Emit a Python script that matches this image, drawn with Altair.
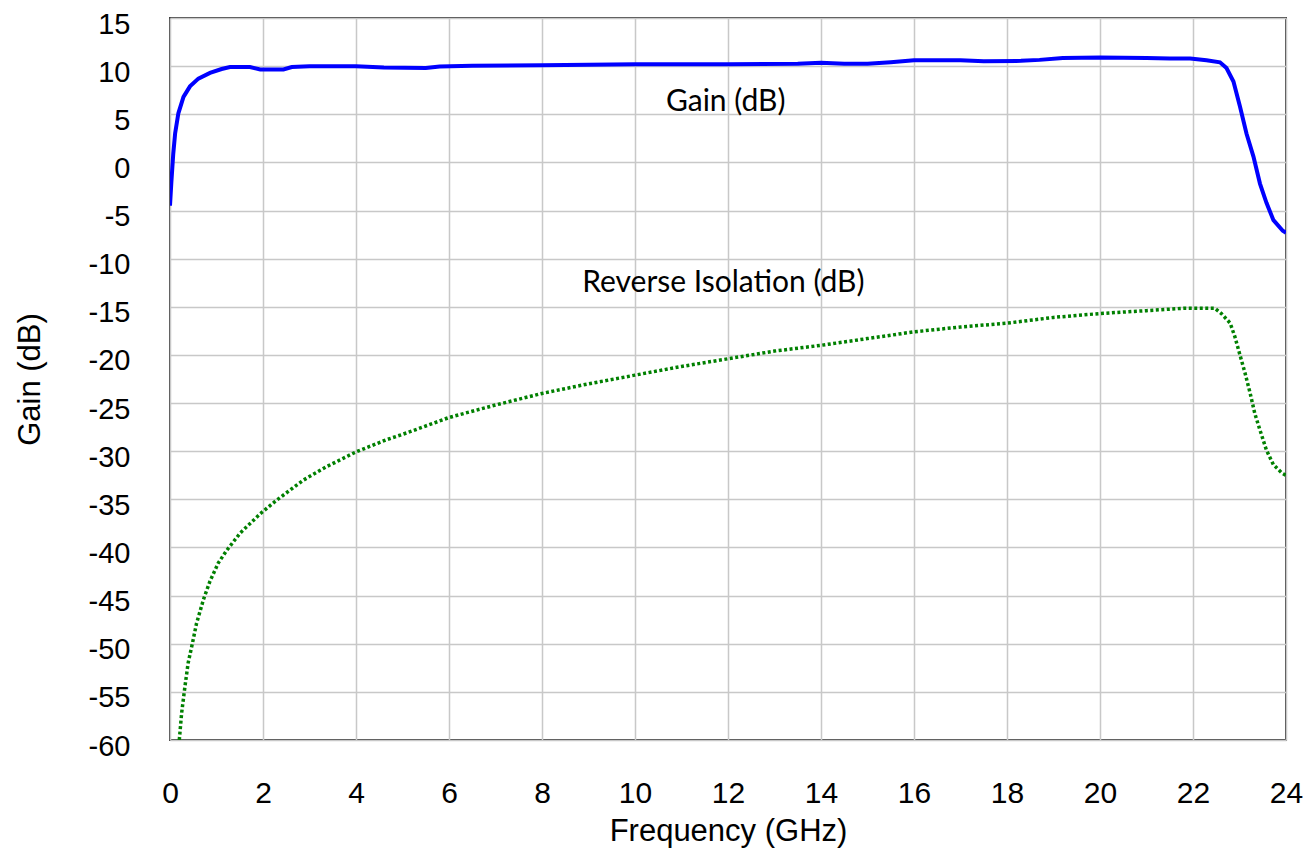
import altair as alt
import pandas as pd

gain_freq = [0.0, 0.03, 0.07, 0.11, 0.18, 0.29, 0.43, 0.61, 0.86, 1.11, 1.29, 1.72, 1.94, 2.44,
             2.62, 3.0, 4.0, 4.6, 5.5, 5.8, 6.5, 8.0, 10.0, 12.0, 13.5, 14.0, 14.5, 15.0, 15.5,
             16.0, 17.0, 17.5, 18.3, 18.7, 19.2, 20.0, 21.0, 21.5, 21.94, 22.29, 22.58, 22.72,
             22.87, 23.01, 23.15, 23.3, 23.44, 23.58, 23.73, 23.93, 24.0]
gain_db = [-4.5, -2.0, 0.9, 3.0, 5.1, 6.8, 7.9, 8.7, 9.3, 9.7, 9.9, 9.9, 9.65, 9.65,
           9.9, 10.0, 10.0, 9.85, 9.8, 9.95, 10.05, 10.1, 10.2, 10.2, 10.25, 10.35, 10.25, 10.25, 10.4,
           10.6, 10.6, 10.5, 10.55, 10.65, 10.85, 10.9, 10.85, 10.8, 10.8, 10.6, 10.4, 9.8,
           8.4, 5.8, 3.0, 0.6, -2.2, -4.2, -6.0, -7.1, -7.3]

iso_freq = [0.2, 0.25, 0.32, 0.39, 0.48, 0.57, 0.72, 0.86, 1.04, 1.22, 1.51, 1.94, 2.29, 2.87,
            3.37, 4.01, 4.66, 5.09, 6.0, 7.0, 8.0, 9.0, 10.0, 11.0, 12.0, 13.0, 14.0, 15.0,
            16.0, 17.0, 18.0, 19.0, 20.0, 21.0, 21.8, 22.47, 22.61, 22.8, 22.9, 23.01, 23.12,
            23.23, 23.33, 23.44, 23.58, 23.73, 23.92, 24.0]
iso_db = [-60.0, -57.2, -54.5, -52.0, -50.0, -47.9, -45.4, -43.5, -41.6, -40.3, -38.5, -36.5, -35.1, -33.0,
          -31.6, -30.05, -28.8, -28.1, -26.5, -25.2, -24.0, -23.0, -22.1, -21.2, -20.4, -19.6, -19.0, -18.3,
          -17.6, -17.1, -16.7, -16.1, -15.7, -15.4, -15.15, -15.15, -15.7, -16.7, -18.1, -20.0, -21.9,
          -24.0, -26.1, -27.8, -29.9, -31.4, -32.3, -32.5]

label_text = ["Gain (dB)", "Reverse Isolation (dB)"]
label_freq = [11.95, 11.9]
label_db = [6.3, -12.5]

x_ticks = list(range(0, 25, 2))
y_ticks = list(range(-60, 16, 5))

gain_df = pd.DataFrame({"f": gain_freq, "v": gain_db})
iso_df = pd.DataFrame({"f": iso_freq, "v": iso_db})
lab_df = pd.DataFrame({"t": label_text, "f": label_freq, "v": label_db})

xs = alt.Scale(domain=[0, 24], nice=False, zero=False)
ys = alt.Scale(domain=[-60, 15], nice=False, zero=False)

xax = alt.Axis(values=x_ticks, title="Frequency (GHz)", ticks=False, domain=False,
               labelFont="Liberation Sans", labelFontSize=30, labelColor="#000000",
               labelPadding=38, labelFlush=False, labelOverlap=False,
               labelExpr="'' + datum.value",
               titleFont="Liberation Sans", titleFontSize=31, titleFontWeight="normal",
               titleColor="#000000", titleY=91, titleBaseline="middle",
               grid=True, gridColor="#c8c8c8", gridWidth=1.5)
yax = alt.Axis(values=y_ticks, title="Gain (dB)", ticks=False, domain=False,
               labelFont="Liberation Sans", labelFontSize=29, labelColor="#000000",
               labelPadding=40, labelFlush=False, labelOverlap=False, labelOffset=6,
               labelExpr="'' + datum.value",
               titleFont="Liberation Sans", titleFontSize=31, titleFontWeight="normal",
               titleColor="#000000", titleX=-140, titleBaseline="middle",
               grid=True, gridColor="#c8c8c8", gridWidth=1.5)

gain = alt.Chart(gain_df).mark_line(color="#0000ff", strokeWidth=4, clip=True).encode(
    x=alt.X("f:Q", scale=xs, axis=xax),
    y=alt.Y("v:Q", scale=ys, axis=yax),
)
iso = alt.Chart(iso_df).mark_line(color="#008000", strokeWidth=3.5, strokeDash=[3, 2.5], clip=True).encode(
    x=alt.X("f:Q", scale=xs),
    y=alt.Y("v:Q", scale=ys),
)
labels = alt.Chart(lab_df).mark_text(font="Lato", fontSize=30, color="#000000",
                                     align="center", baseline="middle").encode(
    x=alt.X("f:Q", scale=xs),
    y=alt.Y("v:Q", scale=ys),
    text="t:N",
)

chart = alt.layer(gain, iso, labels).properties(
    width=1116, height=722,
    autosize=alt.AutoSizeParams(type="none"),
    padding={"left": 162, "top": 10, "right": 20, "bottom": 109},
    background="#ffffff",
).configure_view(stroke="#404040", strokeWidth=2)

chart.save("out.html", embed_options={"renderer": "svg", "actions": False})
